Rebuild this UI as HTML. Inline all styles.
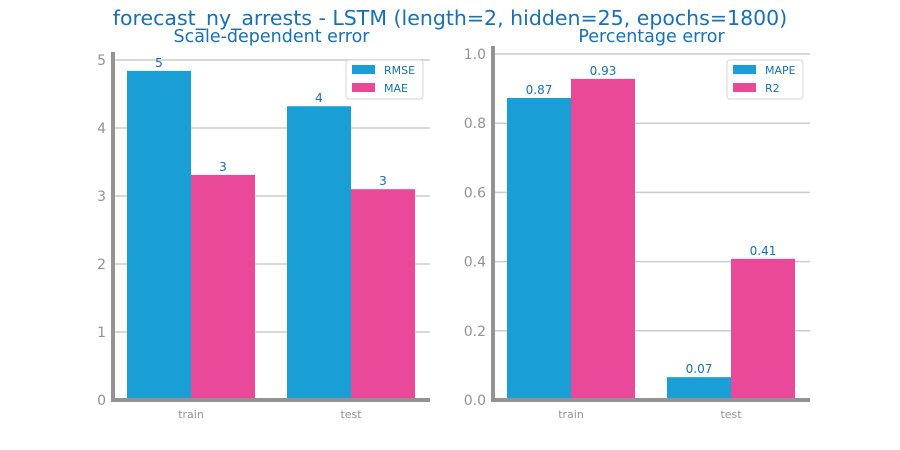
<!DOCTYPE html>
<html><head><meta charset="utf-8"><style>
body{margin:0;background:#fff;}
svg{display:block;font-family:"DejaVu Sans","Liberation Sans",sans-serif;}
</style></head><body>
<svg id="chart" width="900" height="450"></svg>
<script>
const categories = ["train","test"];
const leftSeriesNames = ["RMSE","MAE"];
const rmseValues = [4.84, 4.32];
const maeValues = [3.31, 3.10];
const leftLabels = ["5","3","4","3"];
const leftTicks = [0,1,2,3,4,5];
const rightSeriesNames = ["MAPE","R2"];
const mapeValues = [0.873, 0.066];
const r2Values = [0.928, 0.408];
const rightLabels = ["0.87","0.93","0.07","0.41"];
const rightTicks = [0,0.2,0.4,0.6,0.8,1.0];
const rightTickLabels = ["0.0","0.2","0.4","0.6","0.8","1.0"];

const svg = document.getElementById('chart');
const NS = "http://www.w3.org/2000/svg";
function mk(tag, attrs, parent){
  const e = document.createElementNS(NS, tag);
  for (const k in attrs) e.setAttribute(k, attrs[k]);
  (parent||svg).appendChild(e); return e;
}
const blue="#1a9ed6", pink="#ea4899", textBlue="#1a6fb5", grey="#939393";

const t = mk('text',{x:450,y:25,'text-anchor':'middle','font-size':20.5,fill:textBlue});
t.textContent="forecast_ny_arrests - LSTM (length=2, hidden=25, epochs=1800)";



function panel(o){
  const g = mk('g',{});
  
  
  const y = v => o.y0 - (v/o.ymax)*(o.y0-o.ytop);
  const st = mk('text',{x:(o.x0+o.x1)/2,y:42,'text-anchor':'middle','font-size':17.5,fill:textBlue},g);
  st.textContent=o.title;
  
  
  o.ticks.forEach((tv,i)=>{
    const gl = mk('line',{x1:o.x0,x2:o.x1,y1:y(tv),y2:y(tv),stroke:"#cccccc",'stroke-width':1.5},g);
    
    
    const tl = mk('text',{x:o.x0-7,y:y(tv)+5,'text-anchor':'end','font-size':14,fill:grey},g);
    tl.textContent=o.tickLabels[i];
    
    
  });
  const bw=64, groupW=160;
  categories.forEach((c,ci)=>{
    const cx = o.x0 + 78 + ci*groupW;
    [o.s1,o.s2].forEach((arr,si)=>{
      const v=arr[ci];
      const bx = cx - bw + si*bw;
      const r = mk('rect',{x:bx,y:y(v),width:bw,height:o.y0-y(v),fill:si?pink:blue},g);
      
      
      const lb = mk('text',{x:bx+bw/2,y:y(v)-4,'text-anchor':'middle','font-size':12,fill:textBlue},g);
      lb.textContent=o.labels[ci*2+si];
      
      
    });
    const xl = mk('text',{x:cx,y:418,'text-anchor':'middle','font-size':11,fill:grey},g);
    xl.textContent=c;
    
    
  });
  const ya = mk('line',{x1:o.x0,x2:o.x0,y1:o.ytop-8,y2:o.y0+2,stroke:grey,'stroke-width':4},g);
  
  
  const xa = mk('line',{x1:o.x0-2,x2:o.x1,y1:o.y0,y2:o.y0,stroke:grey,'stroke-width':4},g);
  
  
  const lg = mk('g',{},g);
  
  
  mk('rect',{x:o.lx,y:60,width:o.lw,height:39,rx:3,fill:"#fff",stroke:"#d6d6d6"},lg);
  o.names.forEach((n,i)=>{
    const sw = mk('rect',{x:o.lx+6,y:65+i*18,width:23,height:9,fill:i?pink:blue},lg);
    
    
    const lt = mk('text',{x:o.lx+38,y:74+i*18,'font-size':11,fill:textBlue},lg);
    lt.textContent=n;
    
    
  });
}
panel({name:'scale-dependent-panel',title:'Scale-dependent error',x0:113,x1:430,y0:400,ytop:60,ymax:5,
  ticks:leftTicks,tickLabels:leftTicks.map(String),s1:rmseValues,s2:maeValues,labels:leftLabels,names:leftSeriesNames,lx:346,lw:77});
panel({name:'percentage-panel',title:'Percentage error',x0:493,x1:810,y0:400,ytop:54,ymax:1,
  ticks:rightTicks,tickLabels:rightTickLabels,s1:mapeValues,s2:r2Values,labels:rightLabels,names:rightSeriesNames,lx:727,lw:76});
</script>
</body></html>
